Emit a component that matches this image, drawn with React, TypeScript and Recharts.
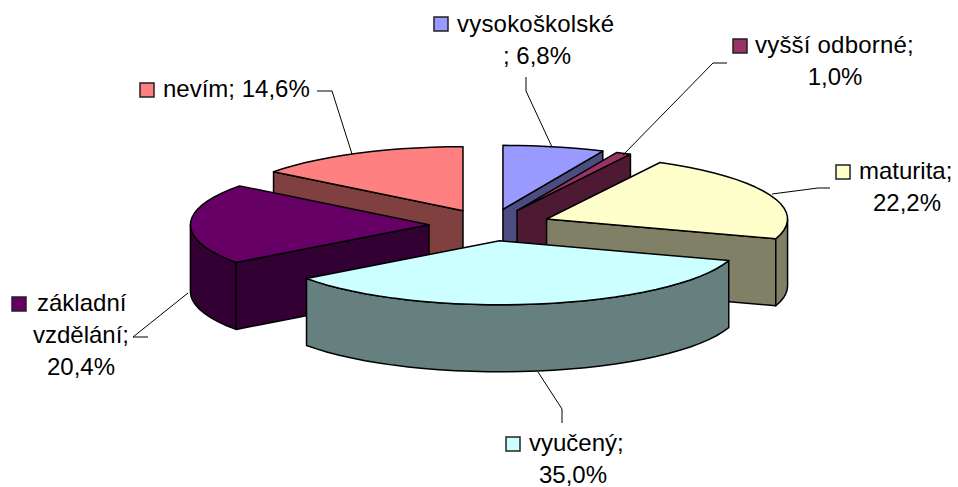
import React from "react";
import { PieChart, Pie } from "recharts";

const categories = ["vysokoškolské", "vyšší odborné", "maturita", "vyučený", "základní vzdělání", "nevím"];
const shares = [6.8, 1.0, 22.2, 35.0, 20.4, 14.6];
const colors = ["#9999FF", "#993366", "#FFFFCC", "#CCFFFF", "#660066", "#FF8080"];
const sideColors = ["#4C4C80", "#4D1933", "#808066", "#668080", "#330033", "#804040"];

const rows = categories.map((name, i) => ({ name, value: shares[i], idx: i }));

// painter's order: back slices first, the big front slice last
const passes = [[5], [0, 1, 2], [4], [3]];

const RY_RATIO = 0.2656;
const RIGHT_STRETCH = 1.0;
const LEFT_STRETCH = 0.99;
const DEPTH = 67;
const EXPLODE_X = 61;
const EXPLODE_Y = 16;
const RIM_STEP = 4;
const FONT = "'Liberation Sans', Arial, sans-serif";
const FONT_SIZE = 24;

type Line = { t: string; x: number; y: number; anchor: "start" | "middle"; ls?: number };
type Lbl = { key: [number, number]; lines: Line[]; leader: [number, number][] };

const labelLayout: Lbl[] = [
  {
    key: [434, 17],
    lines: [
      { t: "vysokoškolské", x: 457, y: 32, anchor: "start", ls: 0.2 },
      { t: "; 6,8%", x: 537, y: 64, anchor: "middle" },
    ],
    leader: [[526, 77], [526, 91], [552, 147]],
  },
  {
    key: [733, 39],
    lines: [
      { t: "vyšší odborné;", x: 755, y: 53, anchor: "start", ls: 0.2 },
      { t: "1,0%", x: 835, y: 85, anchor: "middle" },
    ],
    leader: [[727, 63], [713, 63], [623, 155]],
  },
  {
    key: [836, 165],
    lines: [
      { t: "maturita;", x: 859, y: 179, anchor: "start" },
      { t: "22,2%", x: 907, y: 211, anchor: "middle" },
    ],
    leader: [[830, 188], [818, 188], [772, 194]],
  },
  {
    key: [506, 437],
    lines: [
      { t: "vyučený;", x: 529, y: 451, anchor: "start" },
      { t: "35,0%", x: 573, y: 483, anchor: "middle" },
    ],
    leader: [[562, 423], [562, 409], [538, 372]],
  },
  {
    key: [12, 297],
    lines: [
      { t: "základní", x: 37, y: 311, anchor: "start" },
      { t: "vzdělání;", x: 81, y: 343, anchor: "middle" },
      { t: "20,4%", x: 81, y: 375, anchor: "middle" },
    ],
    leader: [[148, 337], [133, 337], [188, 293]],
  },
  {
    key: [140, 83],
    lines: [{ t: "nevím; 14,6%", x: 163, y: 97, anchor: "start" }],
    leader: [[317, 91], [332, 91], [352, 154]],
  },
];

const rad = (d: number) => (d * Math.PI) / 180;

function makeSlice(pass: number[]) {
  return function Slice(props: any) {
    const i = props.idx ?? props.payload?.idx;
    if (!pass.includes(i)) return <g />;
    const { cx, cy, outerRadius, startAngle, endAngle } = props;
    const a0 = 90 - startAngle;
    const a1 = 90 - endAngle;
    const mid = (a0 + a1) / 2;
    const ax = cx + EXPLODE_X * Math.sin(rad(mid));
    const ay = cy - EXPLODE_Y * Math.cos(rad(mid));
    const ry = outerRadius * RY_RATIO;
    const pt = (a: number, dz = 0): [number, number] => {
      const sn = Math.sin(rad(a));
      return [
        ax + outerRadius * sn * (sn > 0 ? RIGHT_STRETCH : LEFT_STRETCH),
        ay - ry * Math.cos(rad(a)) + dz,
      ];
    };
    const rim = (from: number, to: number, dz = 0) => {
      const out: [number, number][] = [];
      const n = Math.max(1, Math.ceil(Math.abs(to - from) / RIM_STEP));
      for (let k = 0; k <= n; k++) out.push(pt(from + ((to - from) * k) / n, dz));
      return out;
    };
    const poly = (p: [number, number][]) => p.map((q) => q.join(",")).join(" ");
    const side = sideColors[i];
    const stroke = { stroke: "#000", strokeWidth: 1.5, strokeLinejoin: "round" as const };
    const face = (a: number): [number, number][] => {
      const p = pt(a);
      return [[ax, ay], p, [p[0], p[1] + DEPTH], [ax, ay + DEPTH]];
    };
    const norm = (a: number) => ((a % 360) + 360) % 360;
    const showStart = norm(a0) > 180 && norm(a0) < 360;
    const showEnd = norm(a1) > 0 && norm(a1) < 180;
    const w0 = Math.max(a0, 90);
    const w1 = Math.min(a1, 270);
    return (
      <g>
        {showStart && <polygon points={poly(face(a0))} fill={side} {...stroke} />}
        {showEnd && <polygon points={poly(face(a1))} fill={side} {...stroke} />}
        {w1 > w0 && <polygon points={poly([...rim(w0, w1), ...rim(w1, w0, DEPTH)])} fill={side} {...stroke} />}
        <polygon points={poly([[ax, ay], ...rim(a0, a1)])} fill={colors[i]} {...stroke} />
      </g>
    );
  };
}

function renderLabel(props: any) {
  const i = props.index;
  const l = labelLayout[i];
  return (
    <g key={i}>
      <polyline points={l.leader.map((p) => p.join(",")).join(" ")} fill="none" stroke="#000" strokeWidth={1} />
      <rect x={l.key[0]} y={l.key[1]} width={14} height={14} fill={colors[i]} stroke="#222" strokeWidth={1.5} />
      {l.lines.map((ln, k) => (
        <text key={k} x={ln.x} y={ln.y} textAnchor={ln.anchor} fontFamily={FONT} fontSize={FONT_SIZE} letterSpacing={ln.ls ?? 0} fill="#000">
          {ln.t}
        </text>
      ))}
    </g>
  );
}

const pieBase = {
  data: rows,
  dataKey: "value",
  nameKey: "name",
  cx: 490,
  cy: 225,
  outerRadius: 241,
  innerRadius: 0,
  startAngle: 90,
  endAngle: -270,
  isAnimationActive: false,
  stroke: "none",
};

export default function App() {
  return (
    <div style={{ position: "absolute", left: 0, top: 0, width: 958, height: 487, background: "#fff" }}>
      <PieChart width={958} height={487} margin={{ top: 0, right: 0, bottom: 0, left: 0 }}>
        {passes.map((pass, n) => (
          <Pie key={n} {...pieBase} shape={makeSlice(pass)} labelLine={false} label={false} />
        ))}
        <Pie {...pieBase} key="labels" shape={() => <g />} labelLine={false} label={renderLabel} />
      </PieChart>
    </div>
  );
}
